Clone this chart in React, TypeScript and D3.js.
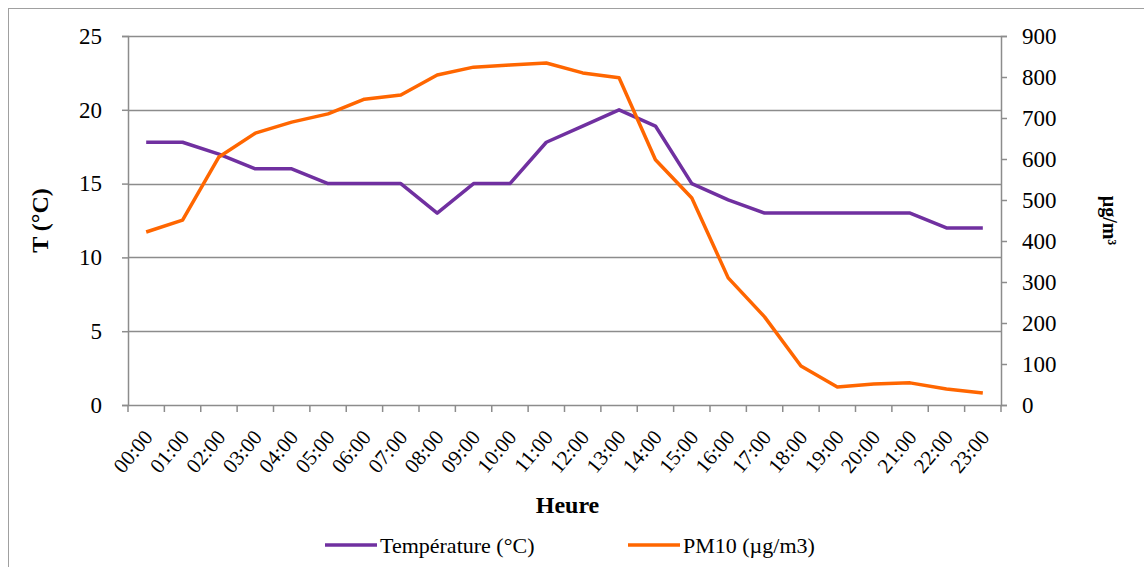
import { useEffect, useRef } from "react"
import * as d3 from "d3"

const hours = ["00:00", "01:00", "02:00", "03:00", "04:00", "05:00", "06:00", "07:00", "08:00", "09:00", "10:00", "11:00",
    "12:00", "13:00", "14:00", "15:00", "16:00", "17:00", "18:00", "19:00", "20:00", "21:00", "22:00", "23:00"]
const temperature = [17.8, 17.8, 17, 16, 16, 15, 15, 15, 13, 15, 15, 17.8, 18.9, 20, 18.9, 15, 13.9, 13, 13, 13, 13, 13, 12, 12]
const pm10 = [422, 451, 605, 663, 690, 710, 746, 756, 805, 824, 829, 834, 810, 798, 598, 505, 310, 215, 95, 44, 51, 54, 39, 29]
const tempTicks = [0, 5, 10, 15, 20, 25]
const pmTicks = [0, 100, 200, 300, 400, 500, 600, 700, 800, 900]

const PURPLE = "#7030a0"
const ORANGE = "#ff6600"
const GRID = "#8c8c8c"
const FONT = "'Liberation Serif', 'Times New Roman', serif"

export default function App() {
    const svgRef = useRef<SVGSVGElement>(null)
    const width = 1144
    const height = 567

    useEffect(() => {
        const margin = { top: 36, right: 143, bottom: 162, left: 128 }

        const x = d3.scaleBand<string>()
            .domain(hours)
            .range([margin.left, width - margin.right])
        const yT = d3.scaleLinear().domain([0, 25]).range([height - margin.bottom, margin.top])
        const yP = d3.scaleLinear().domain([0, 900]).range([height - margin.bottom, margin.top])

        const svg = d3.select(svgRef.current)
        svg.selectAll("*").remove()

        // cadre
        svg.append("rect")
            .attr("x", 8.5).attr("y", 8.5)
            .attr("width", width).attr("height", height)
            .attr("fill", "white").attr("stroke", "#a0a0a0")

        // grille
        svg.append("g")
            .selectAll("line")
            .data(tempTicks.slice(1))
            .join("line")
            .attr("x1", margin.left).attr("x2", width - margin.right)
            .attr("y1", d => Math.round(yT(d)) + 0.5).attr("y2", d => Math.round(yT(d)) + 0.5)
            .attr("stroke", GRID).attr("stroke-width", 1.5)

        // axe gauche
        const left = svg.append("g")
            .attr("transform", `translate(${margin.left},0)`)
            .call(d3.axisLeft(yT).tickValues(tempTicks).tickSize(6).tickPadding(20))
        // axe droit
        const right = svg.append("g")
            .attr("transform", `translate(${width - margin.right},0)`)
            .call(d3.axisRight(yP).tickValues(pmTicks).tickSize(6).tickPadding(15))
        // axe x
        const bottom = svg.append("g")
            .attr("transform", `translate(0,${height - margin.bottom})`)
            .call(d3.axisBottom(x).tickSize(0).tickFormat(() => ""))
        bottom.selectAll(".tick").remove()
        bottom.append("g")
            .selectAll("line")
            .data(d3.range(hours.length + 1))
            .join("line")
            .attr("x1", i => margin.left + i * x.step()).attr("x2", i => margin.left + i * x.step())
            .attr("y1", 0).attr("y2", 7)
            .attr("stroke", GRID).attr("stroke-width", 1.5)
        bottom.append("g")
            .selectAll("text")
            .data(hours)
            .join("text")
            .attr("transform", d => `translate(${(x(d) ?? 0) + x.bandwidth() / 2 + 2},${28}) rotate(-50)`)
            .attr("text-anchor", "end")
            .attr("dy", "0.35em")
            .attr("font-family", FONT).attr("font-size", 21).attr("fill", "#000")
            .text(d => d)

        for (const g of [left, right, bottom]) {
            g.select(".domain").attr("stroke", GRID).attr("stroke-width", 1.5)
            g.selectAll(".tick line").attr("stroke", GRID).attr("stroke-width", 1.5)
            g.selectAll(".tick text").attr("font-family", FONT).attr("font-size", 23).attr("fill", "#000")
        }

        const cx = (d: string) => (x(d) ?? 0) + x.bandwidth() / 2

        const lineT = d3.line<number>()
            .x((_, i) => cx(hours[i]))
            .y(d => yT(d))
        const lineP = d3.line<number>()
            .x((_, i) => cx(hours[i]))
            .y(d => yP(d))

        svg.append("path")
            .datum(temperature)
            .attr("fill", "none").attr("stroke", PURPLE).attr("stroke-width", 3.5)
            .attr("stroke-linejoin", "round")
            .attr("d", lineT)
        svg.append("path")
            .datum(pm10)
            .attr("fill", "none").attr("stroke", ORANGE).attr("stroke-width", 3.5)
            .attr("stroke-linejoin", "round")
            .attr("d", lineP)

        // titres
        svg.append("text")
            .attr("transform", `translate(40,${(yT(0) + yT(25)) / 2}) rotate(-90)`)
            .attr("text-anchor", "middle").attr("dy", "0.35em")
            .attr("font-family", FONT).attr("font-size", 24).attr("font-weight", "bold")
            .text("T (°C)")
        svg.append("text")
            .attr("transform", `translate(1110,${(yP(0) + yP(900)) / 2}) rotate(90)`)
            .attr("text-anchor", "middle").attr("dy", "0.35em")
            .attr("font-family", FONT).attr("font-size", 20).attr("font-weight", "bold")
            .text("µg/m³")
        svg.append("text")
            .attr("x", (margin.left + width - margin.right) / 2 + 3).attr("y", 505)
            .attr("text-anchor", "middle").attr("dy", "0.35em")
            .attr("font-family", FONT).attr("font-size", 24).attr("font-weight", "bold")
            .text("Heure")

        // légende
        const legend = [
            { label: "Température (°C)", color: PURPLE, x: 325 },
            { label: "PM10 (µg/m3)", color: ORANGE, x: 628 },
        ]
        const lg = svg.append("g")
            .selectAll("g")
            .data(legend)
            .join("g")
            .attr("transform", d => `translate(${d.x},545)`)
        lg.append("line")
            .attr("x1", 0).attr("x2", 52)
            .attr("stroke", d => d.color).attr("stroke-width", 3.5)
        lg.append("text")
            .attr("x", 55).attr("dy", "0.35em")
            .attr("font-family", FONT).attr("font-size", 22)
            .text(d => d.label)
    }, [])

    return <svg ref={svgRef} width={width} height={height} style={{ display: "block", position: "absolute", left: 0, top: 0 }}></svg>
}
